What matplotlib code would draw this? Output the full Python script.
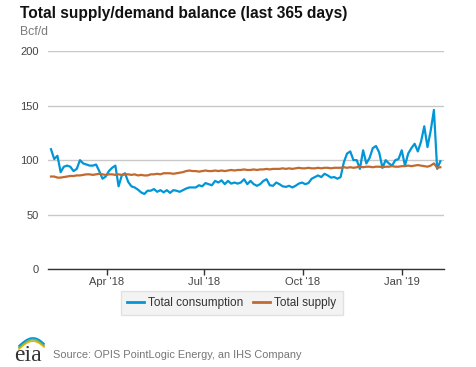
import matplotlib
matplotlib.use('Agg')
import matplotlib.pyplot as plt
import pandas as pd
import numpy as np
from matplotlib.lines import Line2D

plt.rcParams['font.family'] = ['Liberation Sans', 'DejaVu Sans']

# ---------------- data ----------------
start_date = '2018-02-08'
step_days = 3

consumption = [
    110, 101, 104, 89, 94, 95, 94, 90, 92, 100,
    97, 96, 95, 95, 96, 90, 83, 85, 90, 93,
    95, 76, 86, 88, 80, 76, 75, 73, 70.5, 69,
    72, 72, 73.5, 71, 72.5, 70.5, 72.5, 70, 72.5, 72,
    71, 72.5, 74, 75, 75, 75, 77, 76, 79, 78,
    77, 81, 79.5, 81.5, 78, 81, 78.5, 79.5, 78.5, 79.5,
    82.5, 78, 81, 78, 76.5, 78, 81, 82.5, 77, 76.5,
    79.5, 78, 76, 75.5, 76.5, 75, 76.5, 78.5, 79.5, 78,
    79, 83, 84.5, 86, 84.5, 87.5, 86, 84, 84.5, 83,
    84.5, 98, 106, 108, 100, 100, 92, 109, 97, 102,
    111, 113, 107, 93, 100, 97, 95, 100, 101, 109,
    95, 106, 111, 115, 108, 117, 131, 112, 127, 146,
    92, 99,
]

supply = [
    85, 85, 84, 84, 84.5, 85, 85.5, 85.5, 86, 86,
    86.5, 87, 87, 86.5, 87, 87.5, 87, 86.5, 87, 87,
    86.5, 87, 86.5, 87, 87, 86.5, 87, 86, 86.5, 86,
    86, 87, 87, 87.5, 87, 88, 88, 88, 87.5, 88,
    88.5, 89, 90, 90.5, 90, 90, 89.5, 90, 90.5, 90,
    90, 90.5, 90, 90.5, 90, 90.5, 91, 90.5, 91, 91,
    91.5, 91, 91, 91.5, 91, 91.5, 91.5, 92, 91.5, 92,
    92, 92, 92.5, 92, 92.5, 92, 92.5, 93, 92.5, 92.5,
    93, 92.5, 92.5, 93, 92.5, 93, 93, 92.5, 93, 93,
    93, 93.5, 93, 93.5, 93, 93.5, 94, 93.5, 94, 94,
    93.5, 94, 94, 93.5, 94, 94, 94.5, 94, 94, 94.5,
    94.5, 95, 94.5, 95, 95.5, 95, 94.5, 94, 95, 97,
    93, 93.5,
]

tick_dates = ['2018-04-01', '2018-07-01', '2018-10-01', '2019-01-01']
tick_labels = ["Apr '18", "Jul '18", "Oct '18", "Jan '19"]
y_ticks = [0, 50, 100, 150, 200]
series_names = ['Total consumption', 'Total supply']

# ---------------- figure ----------------
W, H = 477, 367
fig = plt.figure(figsize=(W / 100, H / 100), dpi=100)
ax = fig.add_axes([48 / W, 1 - 269.3 / H, (444 - 48) / W, (269.3 - 51) / H])

dates = pd.date_range(start_date, periods=len(consumption), freq=f'{step_days}D')
c_blue = '#0096d7'
c_orange = '#c1692f'
ax.plot(dates, consumption, color=c_blue, lw=1.6, label=series_names[0], zorder=3)
ax.plot(dates, supply, color=c_orange, lw=1.6, label=series_names[1], zorder=4)

t0 = pd.Timestamp(start_date)
ax.set_xlim(t0 - pd.Timedelta(days=2.8), t0 + pd.Timedelta(days=366.4))
ax.set_ylim(0, 200)
ax.set_yticks(y_ticks)
ax.set_xticks(pd.to_datetime(tick_dates))
ax.set_xticklabels(tick_labels)

ax.grid(axis='y', color='#c8c8c8', lw=1)
ax.set_axisbelow(True)
for s in ['top', 'right', 'left']:
    ax.spines[s].set_visible(False)
ax.spines['bottom'].set_color('#333333')
ax.spines['bottom'].set_linewidth(1)

ax.tick_params(axis='y', length=0, pad=6.5, labelsize=8, labelcolor='#444444')
ax.tick_params(axis='x', length=4, width=1, color='#333333', pad=1.5,
               labelsize=8, labelcolor='#444444')

# title / unit
fig.text(20 / W, 1 - 18.3 / H, 'Total supply/demand balance (last 365 days)',
         fontsize=11.2, fontweight='bold', color='#111111', va='baseline')
fig.text(20 / W, 1 - 35 / H, 'Bcf/d', fontsize=8.8, color='#7a7a7a', va='baseline')

# legend
leg = fig.legend(loc='center', bbox_to_anchor=(231.8 / W, 1 - 303 / H), ncol=2,
                 fontsize=8.5, frameon=True, fancybox=False, handlelength=1.4,
                 handletextpad=0.4, columnspacing=0.8, borderpad=0.55)
leg.get_frame().set_facecolor('#f0f0f0')
leg.get_frame().set_edgecolor('#dcdcdc')
leg.get_frame().set_linewidth(1)
for t in leg.get_texts():
    t.set_color('#333333')
for l in leg.get_lines():
    l.set_linewidth(2)

# source + eia logo
fig.text(53 / W, 1 - 358.3 / H, 'Source: OPIS PointLogic Energy, an IHS Company',
         fontsize=7.9, color='#777777', va='baseline')
fig.text(14 / W, 1 - 361 / H, 'eia', fontsize=17, color='#333333',
         family=['Liberation Serif', 'DejaVu Serif'], va='baseline')
tt = np.linspace(0, 1, 30)
for dy, col in [(0, '#f2b100'), (1.6, '#7ab648'), (3.2, '#0096d7')]:
    xs = 19 + 25 * tt
    ys = 349 - dy - 9 * np.sin(np.pi * tt * 0.85) + 2 * tt
    fig.add_artist(Line2D(xs / W, 1 - ys / H, color=col, lw=1.2,
                          transform=fig.transFigure))

fig.savefig('out.png', dpi=100)
